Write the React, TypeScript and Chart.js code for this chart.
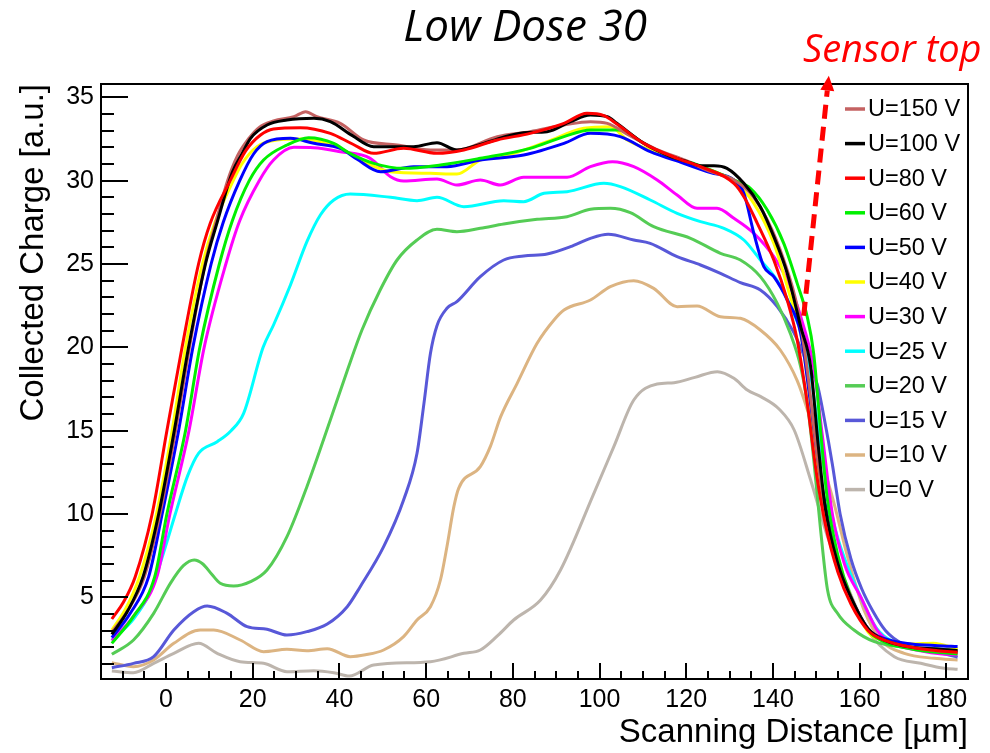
import React, { useEffect, useRef } from "react";
import { Chart, registerables } from "chart.js";

Chart.register(...registerables);

type Pt = [number, number];

// ---------- text ----------
const chartTitle = "Low Dose 30";
const noteText = "Sensor top";
const xAxisTitle = "Scanning Distance [µm]";
const yAxisTitle = "Collected Charge [a.u.]";

// ---------- axes ----------
const xRange: Pt = [-15, 185];
const yRange: Pt = [0.1, 35.8];
const xTickValues = [0, 20, 40, 60, 80, 100, 120, 140, 160, 180];
const yTickValues = [5, 10, 15, 20, 25, 30, 35];
const xMinorStep = 5;
const yMinorStep = 1;

// ---------- series ----------
const seriesLabels = [
  "U=150 V", "U=100 V", "U=80 V", "U=60 V", "U=50 V", "U=40 V",
  "U=30 V", "U=25 V", "U=20 V", "U=15 V", "U=10 V", "U=0 V",
];
const seriesColors = [
  "#c46262", "#000000", "#ff0000", "#00f000", "#0000ff", "#ffff00",
  "#ff00ff", "#00ffff", "#55cc55", "#5858d8", "#dcb482", "#bdb5ad",
];
const drawOrder = [2, 1, 0, 3, 4, 5, 6, 7, 8, 9, 10, 11];

const u150: Pt[] = [
  [-12.5, 2.9], [-8.75, 4.24], [-5.0, 6.24], [-1.4, 10], [2.2, 15], [5.4, 20], [9.0, 25], [11.6, 27.6],
  [14.2, 30.0], [16.5, 31.5], [19, 32.5], [21.5, 33.2], [24.8, 33.58], [29.5, 33.84], [32.2, 34.14],
  [34.8, 33.84], [40.2, 33.44], [45.6, 32.44], [53.3, 32.14], [61, 31.84], [67.1, 31.84], [76.4, 32.64],
  [84, 32.94], [91.8, 33.34], [97.9, 33.54], [101.8, 33.44], [107, 32.7], [113, 31.9], [120, 31.2],
  [125, 30.6], [131, 30.04], [134.8, 29.24], [138.7, 27.64], [142.5, 25.24], [145.6, 22.44], [148, 18.5],
  [150, 14], [152, 10.3], [155, 7], [158, 5], [162, 3.1], [166, 2.4], [172, 2.0], [178, 1.8], [182.6, 1.7],
];
const u100: Pt[] = [
  [-12.5, 2.78], [-8.9, 4.16], [-5.3, 6.24], [-1.7, 10], [1.9, 15], [5.2, 20], [9.1, 25], [11.8, 27.5],
  [15.3, 30.5], [17.5, 31.6], [19.5, 32.54], [23.3, 33.34], [27.9, 33.64], [34.1, 33.74], [37.9, 33.54],
  [43, 32.7], [47.9, 32.04], [57.1, 32.04], [62.5, 32.28], [67.1, 31.84], [73.3, 32.24], [82.5, 32.88],
  [87.9, 32.94], [93.3, 33.54], [97.9, 33.94], [101.8, 33.84], [104, 33.44], [110.2, 32.24], [115.6, 31.54],
  [120.2, 31.14], [123.3, 30.9], [126.4, 30.9], [129.4, 30.74], [133.3, 29.84], [137.1, 28.44], [140.2, 26.64],
  [143.3, 24.44], [146.4, 21.24], [148.7, 18.84], [150.5, 14], [152, 10.5], [155, 7], [158, 5], [162, 3.1],
  [166, 2.4], [172, 2.0], [178, 1.9], [182.6, 1.8],
];
const u80: Pt[] = [
  [-12.5, 3.7], [-9.8, 4.72], [-7.1, 6.24], [-3.2, 10], [0.2, 15], [3.7, 20], [7.5, 25], [10.2, 27.44],
  [14.8, 30], [18.4, 31.8], [21.8, 32.74], [24.8, 33.1], [31, 33.18], [37.9, 32.84], [43, 32.2],
  [47.9, 31.64], [54.8, 31.94], [62.5, 31.64], [68.7, 31.84], [76.4, 32.44], [84, 32.84], [91.8, 33.44],
  [97.1, 34.04], [101, 33.9], [104, 33.4], [110.2, 32.24], [117.9, 31.34], [123.3, 30.84], [131, 29.84],
  [133.3, 29.04], [136.4, 27.44], [140.2, 25.24], [143.3, 22.84], [145.6, 20.44], [148, 16.5], [150, 12.5],
  [152, 9.5], [155, 6.5], [158, 4.6], [162, 3.0], [166, 2.4], [172, 2.0], [178, 1.8], [182.6, 1.7],
];
const u60: Pt[] = [
  [-12.5, 2.24], [-7.55, 3.84], [-2.6, 6.24], [0.2, 10], [4.5, 15], [7.8, 20], [12.3, 25], [15.3, 27.6],
  [19.2, 30.0], [22.5, 31.24], [27.9, 32.14], [32.9, 32.58], [38.7, 32.24], [42, 31.7], [47.9, 31.04],
  [54.8, 30.74], [63.3, 30.94], [72.5, 31.34], [84, 31.94], [91.8, 32.64], [97.9, 33.04], [104.8, 33.04],
  [110.2, 32.24], [115.6, 31.54], [121.7, 31.04], [126, 30.6], [131, 30.04], [134.8, 29.54], [138.7, 28.24],
  [142.5, 26.24], [145.6, 23.84], [147.9, 21.84], [149.4, 19.64], [151, 15], [152.5, 11], [155, 7.5],
  [158, 5], [162, 3.0], [166, 2.3], [172, 1.9], [178, 1.7], [182.6, 1.6],
];
const u50: Pt[] = [
  [-12.5, 2.58], [-8.25, 4.04], [-4.0, 6.24], [-0.9, 10], [2.9, 15], [6.2, 20], [10.4, 25], [13.2, 27.5],
  [17, 30], [20.2, 31.6], [23.3, 32.34], [28.7, 32.54], [34.1, 32.24], [40.2, 31.94], [44, 31.3],
  [49.5, 30.54], [57.1, 30.84], [64.8, 30.84], [72.5, 31.24], [82.5, 31.54], [91.8, 32.24], [97.9, 32.84],
  [104.8, 32.64], [111.7, 31.74], [119.4, 31.04], [125.6, 30.48], [131, 30.04], [133.3, 29.24], [135.6, 26.84],
  [137.9, 24.84], [140.2, 24.24], [143.3, 22.84], [146.4, 20.84], [148.5, 17], [150.5, 13], [152.5, 10],
  [155, 7], [158, 5], [162, 3.1], [166, 2.5], [172, 2.2], [178, 2.1], [182.6, 2.05],
];
const u40: Pt[] = [
  [-12.5, 3.04], [-9.3, 4.32], [-6.1, 6.24], [-2.2, 10], [1.4, 15], [4.5, 20], [8.4, 25], [11.3, 27.5],
  [15.5, 30], [17.5, 31.0], [21, 32.04], [25.6, 32.44], [31, 32.5], [37.2, 32.24], [40.2, 31.94],
  [45.6, 31.14], [51.8, 30.54], [61, 30.44], [67.1, 30.4], [72.5, 31.24], [80.2, 31.64], [87.9, 32.34],
  [96.4, 33.14], [102.5, 33.24], [106.4, 32.44], [114, 31.64], [123.3, 30.84], [131, 29.94], [135.6, 28.64],
  [140.2, 26.24], [144, 23.04], [146.4, 20.84], [148.5, 17], [150.5, 12.5], [152.5, 9.5], [155, 7],
  [158, 5], [162, 2.9], [166, 2.4], [172, 2.2], [177, 2.25], [182.6, 1.9],
];
const u30: Pt[] = [
  [-12.5, 2.4], [-7.3, 3.94], [-2.1, 6.24], [0.9, 10], [5.3, 15], [8.8, 20], [13.8, 25], [17, 27.6],
  [21.5, 30], [24.8, 31.24], [29.5, 32.0], [34.1, 31.98], [40.2, 31.74], [47.1, 31.34], [51.8, 30.24],
  [54.8, 29.98], [62.5, 30.1], [67.1, 29.74], [72.5, 30.04], [77.1, 29.74], [82.5, 30.2], [92.5, 30.2],
  [97.9, 30.84], [103, 31.14], [107.9, 30.84], [113.3, 30.04], [117.9, 29.14], [122.5, 28.34], [127.1, 28.34],
  [131, 27.74], [135.6, 26.84], [140.2, 25.44], [144, 23.64], [147.1, 21.24], [149.4, 18.84], [151.5, 14.5],
  [153.7, 10], [156.5, 7], [160.3, 5], [164.1, 3], [168, 2.2], [174, 1.8], [179, 1.6], [182.6, 1.55],
];
const u25: Pt[] = [
  [-12.5, 2.44], [-7.5, 3.7], [-3.5, 5.4], [-0.3, 7.9], [2.15, 10], [5, 12.3], [7.5, 13.64], [11.8, 14.34],
  [15, 15.0], [17.9, 16.04], [22.4, 20.0], [24.8, 21.34], [28.7, 23.74], [32.5, 26.34], [35.6, 27.94],
  [38.7, 28.84], [42.5, 29.2], [51.8, 29.0], [57.9, 28.8], [62.5, 29.0], [68.7, 28.44], [77.9, 28.8],
  [82.5, 28.74], [87.2, 29.24], [92.5, 29.34], [101, 29.84], [104.8, 29.64], [111.7, 28.84], [117.9, 28.04],
  [123.3, 27.54], [128.7, 27.14], [133.3, 26.44], [137.1, 25.24], [140.9, 24.04], [144.8, 22.04], [147.9, 19.64],
  [150, 16], [152, 12.5], [154, 9.5], [157, 7], [160.3, 5], [164, 3.1], [168, 2.3], [174, 1.9], [179, 1.8],
  [182.6, 1.75],
];
const u20: Pt[] = [
  [-12.5, 1.58], [-7.5, 2.44], [-2.85, 4.04], [1.0, 5.84], [4, 6.9], [6.5, 7.24], [8.5, 7.0], [10.5, 6.4],
  [12.5, 5.84], [15.6, 5.68], [19.5, 5.94], [23.3, 6.64], [27.9, 8.64], [32.5, 11.64], [37.9, 15.64],
  [41.8, 18.6], [45.2, 21.04], [49.4, 23.44], [53.3, 25.24], [57.9, 26.44], [62.5, 27.08], [67.1, 26.94],
  [72.5, 27.14], [77.9, 27.4], [85.6, 27.68], [92.5, 27.84], [97.9, 28.28], [102.5, 28.34], [107.1, 28.08],
  [112.5, 27.24], [121, 26.54], [127.9, 25.64], [132.5, 25.24], [137.1, 24.24], [141, 22.64], [144, 20.84],
  [146.4, 18.84], [148, 16.5], [149.5, 13.04], [151, 9.04], [152.6, 5.44], [154.9, 4.04], [158.7, 3.04],
  [163.4, 2.34], [169.5, 2.04], [175.7, 1.94], [182.6, 1.84],
];
const u15: Pt[] = [
  [-12.5, 0.78], [-7.5, 1.04], [-2.85, 1.44], [1.8, 3.04], [6.4, 4.14], [9.5, 4.48], [14.1, 4.04],
  [18.7, 3.24], [23.3, 3.08], [27.9, 2.74], [32.5, 2.94], [37.2, 3.4], [41.8, 4.44], [44.8, 5.64],
  [50.2, 8.04], [54.8, 10.84], [57.9, 13.64], [59.5, 16.64], [61, 19.64], [62.5, 21.3], [64.8, 22.34],
  [67.1, 22.74], [72.5, 24.24], [77.9, 25.24], [82.5, 25.48], [87.9, 25.6], [93.3, 26.04], [97.9, 26.54],
  [102, 26.78], [107.9, 26.44], [111.7, 26.24], [117.9, 25.44], [123.3, 24.94], [127.9, 24.44], [132.5, 23.88],
  [137.1, 23.44], [141, 22.44], [144.8, 20.9], [148, 19.0], [150.2, 17.8], [152, 15.5], [153.7, 13],
  [155.5, 10], [158, 7.3], [160.5, 5.5], [163, 4.2], [166, 3.0], [170, 2.2], [175, 1.8], [179, 1.65], [182.6, 1.4],
];
const u10: Pt[] = [
  [-12.5, 1.08], [-7.5, 0.84], [-2.85, 1.24], [1.8, 2.24], [7.9, 3.04], [11, 3.04], [17.1, 2.44],
  [22.5, 1.74], [27.9, 1.88], [32.5, 1.8], [37.2, 1.92], [42.5, 1.44], [46, 1.55], [50.2, 1.84],
  [54.8, 2.64], [57.9, 3.64], [61, 4.44], [63.3, 6.04], [64.8, 8.04], [66.4, 10.44], [67.5, 11.54],
  [72.5, 12.84], [74.8, 14.04], [77.2, 15.84], [81, 17.84], [85.6, 20.24], [89.5, 21.64], [91.8, 22.24],
  [97.9, 22.84], [102.5, 23.64], [107.9, 24.0], [112.5, 23.54], [117.9, 22.44], [122.5, 22.48], [127.9, 21.84],
  [132.5, 21.74], [137.1, 21.04], [141.7, 19.84], [145.6, 18.0], [148, 16.2], [151, 13.44], [154.1, 10.64],
  [157.2, 7.44], [161, 4.24], [164.9, 2.44], [170.3, 1.64], [177.2, 1.34], [182.6, 1.24],
];
const u0: Pt[] = [
  [-12.5, 0.58], [-7.5, 0.48], [-2.85, 1.04], [1.8, 1.64], [7.5, 2.24], [11.8, 1.64], [17.1, 1.14],
  [22.5, 1.04], [27.9, 0.54], [34.1, 0.6], [38.7, 0.48], [42.3, 0.28], [47.9, 0.94], [61, 1.14],
  [68.7, 1.64], [72.5, 1.84], [76.5, 2.7], [80.2, 3.64], [86.4, 4.84], [91, 6.64], [98.7, 11.24],
  [103.3, 14.04], [107.9, 16.84], [113.3, 17.8], [117.2, 17.88], [122, 18.2], [127.2, 18.54], [131, 18.14],
  [134.1, 17.44], [137.2, 17.04], [141.4, 16.3], [144.9, 15.04], [148.7, 12.04], [152.6, 8.64], [157.2, 5.64],
  [161.8, 3.04], [168, 1.44], [174.1, 1.04], [179.5, 0.74], [182.6, 0.68],
];
const seriesValues: Pt[][] = [u150, u100, u80, u60, u50, u40, u30, u25, u20, u15, u10, u0];

// annotation arrow, in data coordinates (tail -> tip)
const arrowTail: Pt = [147.1, 21.9];
const arrowTip: Pt = [152.9, 36.3];

const SANS = "'Liberation Sans', Arial, sans-serif";
const ITALIC = "'Open Sans', 'Liberation Sans', sans-serif";

const decorPlugin = {
  id: "decor",
  afterDraw(chart: any) {
    const { ctx, chartArea: a, scales } = chart;
    const xs = scales.x;
    const ys = scales.y;
    ctx.save();

    // frame
    ctx.strokeStyle = "#000";
    ctx.lineWidth = 2;
    ctx.strokeRect(a.left, a.top, a.right - a.left, a.bottom - a.top);

    // inside tick marks
    ctx.beginPath();
    for (let v = Math.ceil(xRange[0] / xMinorStep) * xMinorStep; v < xRange[1]; v += xMinorStep) {
      const px = Math.round(xs.getPixelForValue(v));
      const len = xTickValues.includes(v) ? 16 : 8;
      ctx.moveTo(px, a.bottom);
      ctx.lineTo(px, a.bottom - len);
    }
    for (let v = Math.ceil(yRange[0] / yMinorStep) * yMinorStep; v < yRange[1]; v += yMinorStep) {
      const py = Math.round(ys.getPixelForValue(v));
      const len = yTickValues.includes(v) ? 27 : 13;
      ctx.moveTo(a.left, py);
      ctx.lineTo(a.left + len, py);
    }
    ctx.stroke();

    // legend
    const legX = a.right - 123;
    const legY = a.top + 25;
    const rowH = 34.6;
    chart.data.datasets.forEach((ds: any, i: number) => {
      const y = legY + i * rowH;
      ctx.strokeStyle = ds.borderColor;
      ctx.lineWidth = 3.5;
      ctx.beginPath();
      ctx.moveTo(legX, y);
      ctx.lineTo(legX + 20, y);
      ctx.stroke();
      ctx.fillStyle = "#000";
      ctx.font = `23.5px ${SANS}`;
      ctx.textAlign = "left";
      ctx.textBaseline = "middle";
      ctx.fillText(ds.label, legX + 23, y + 1);
    });

    // title
    ctx.fillStyle = "#000";
    ctx.font = `italic 44px ${ITALIC}`;
    ctx.textAlign = "center";
    ctx.textBaseline = "alphabetic";
    ctx.fillText(chartTitle, 525, 41);

    // note
    ctx.fillStyle = "#ff0000";
    ctx.font = `italic 38px ${ITALIC}`;
    ctx.textAlign = "left";
    ctx.fillText(noteText, 803, 62);

    // dashed arrow
    const tx = xs.getPixelForValue(arrowTail[0]);
    const ty = ys.getPixelForValue(arrowTail[1]);
    const hx = xs.getPixelForValue(arrowTip[0]);
    const hy = ys.getPixelForValue(arrowTip[1]);
    const dx = hx - tx, dy = hy - ty;
    const L = Math.hypot(dx, dy);
    const ux = dx / L, uy = dy / L;
    const headLen = 15, headHalf = 7;
    const bx = hx - ux * headLen, by = hy - uy * headLen;
    ctx.strokeStyle = "#ff0000";
    ctx.lineWidth = 5;
    ctx.setLineDash([14, 8]);
    ctx.beginPath();
    ctx.moveTo(tx, ty);
    ctx.lineTo(bx, by);
    ctx.stroke();
    ctx.setLineDash([]);
    ctx.fillStyle = "#ff0000";
    ctx.beginPath();
    ctx.moveTo(hx, hy);
    ctx.lineTo(bx - uy * headHalf, by + ux * headHalf);
    ctx.lineTo(bx + uy * headHalf, by - ux * headHalf);
    ctx.closePath();
    ctx.fill();

    ctx.restore();
  },
};

export default function App() {
  const ref = useRef<HTMLCanvasElement | null>(null);

  useEffect(() => {
    if (!ref.current) return;
    Chart.defaults.font.family = SANS;
    const chart = new Chart(ref.current, {
      type: "line",
      data: {
        datasets: seriesValues.map((vals, i) => ({
          label: seriesLabels[i],
          data: vals.map(([x, y]) => ({ x, y })),
          borderColor: seriesColors[i],
          backgroundColor: seriesColors[i],
          borderWidth: 3,
          pointRadius: 0,
          fill: false,
          cubicInterpolationMode: "monotone" as const,
          order: drawOrder[i],
        })),
      },
      options: {
        animation: false,
        responsive: false,
        maintainAspectRatio: false,
        events: [],
        layout: { padding: { top: 84, right: 22, left: 0, bottom: 0 } },
        plugins: {
          legend: { display: false },
          tooltip: { enabled: false },
          title: { display: false },
        },
        scales: {
          x: {
            type: "linear",
            min: xRange[0],
            max: xRange[1],
            grid: { display: false, drawTicks: false },
            border: { display: false },
            afterBuildTicks: (s: any) => {
              s.ticks = xTickValues.map((v) => ({ value: v }));
            },
            afterFit: (s: any) => {
              s.height = 74;
            },
            ticks: {
              color: "#000",
              font: { family: SANS, size: 25 },
              padding: 6,
              maxRotation: 0,
              autoSkip: false,
              callback: (v: any) => String(v),
            },
            title: {
              display: true,
              text: xAxisTitle,
              align: "end",
              color: "#000",
              font: { family: SANS, size: 33 },
              padding: { top: 0, bottom: 0 },
            },
          },
          y: {
            type: "linear",
            min: yRange[0],
            max: yRange[1],
            grid: { display: false, drawTicks: false },
            border: { display: false },
            afterBuildTicks: (s: any) => {
              s.ticks = yTickValues.map((v) => ({ value: v }));
            },
            afterFit: (s: any) => {
              s.width = 101;
            },
            ticks: {
              color: "#000",
              font: { family: SANS, size: 25 },
              padding: 7,
              autoSkip: false,
              callback: (v: any) => String(v),
            },
            title: {
              display: true,
              text: yAxisTitle,
              align: "end",
              color: "#000",
              font: { family: SANS, size: 33 },
              padding: { top: 14, bottom: 0 },
            },
          },
        },
      },
      plugins: [decorPlugin],
    });
    return () => chart.destroy();
  }, []);

  return (
    <div style={{ position: "absolute", left: 0, top: 0, width: 990, height: 753, background: "#fff" }}>
      <canvas ref={ref} width={990} height={753} style={{ display: "block", width: 990, height: 753 }} />
    </div>
  );
}
